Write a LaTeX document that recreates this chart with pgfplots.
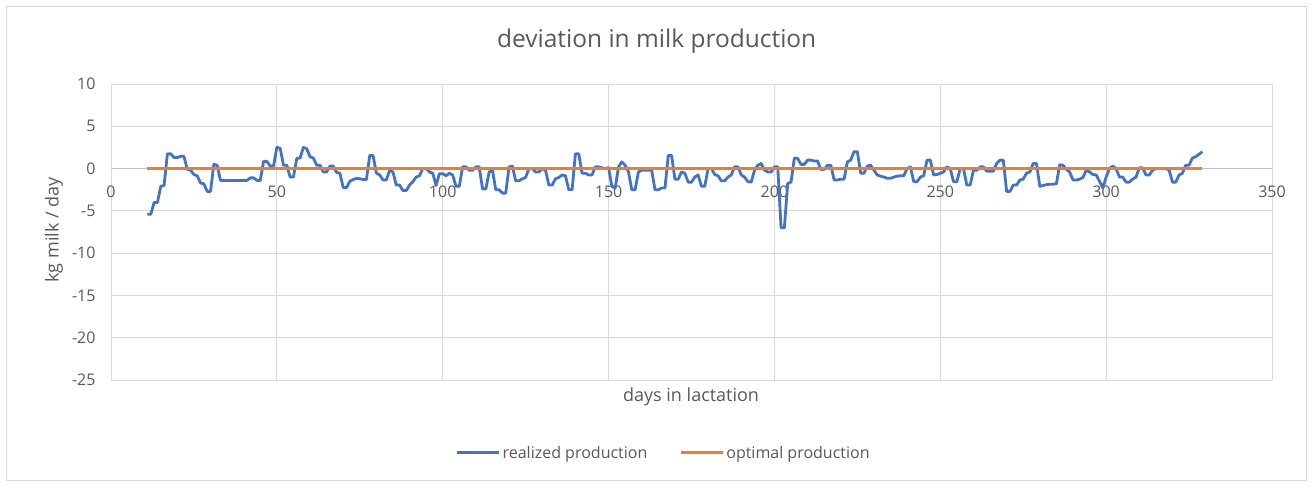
\documentclass[border=0pt]{standalone}
\usepackage{fontspec}
\setmainfont{Open Sans}
\usepackage{pgfplots}
\usepackage{pgfplotstable}
\pgfplotsset{compat=1.18}
\definecolor{cblue}{HTML}{4472C4}
\definecolor{corange}{HTML}{ED7D31}
\definecolor{cgrid}{HTML}{D9D9D9}
\definecolor{ctext}{HTML}{595959}
\definecolor{caxis}{HTML}{BFBFBF}

\pgfplotstableread{
day val
11 -5.4
12 -5.4
13 -4.0
14 -4.0
15 -2.1
16 -2.0
17 1.75
18 1.75
19 1.3
20 1.3
21 1.45
22 1.45
23 -0.1
24 -0.2
25 -0.7
26 -0.85
27 -1.7
28 -1.8
29 -2.7
30 -2.7
31 0.5
32 0.4
33 -1.4
34 -1.4
35 -1.4
36 -1.4
37 -1.4
38 -1.4
39 -1.4
40 -1.4
41 -1.4
42 -1.1
43 -1.1
44 -1.4
45 -1.4
46 0.85
47 0.85
48 0.3
49 0.3
50 2.5
51 2.4
52 0.4
53 0.4
54 -1.0
55 -1.0
56 1.2
57 1.25
58 2.5
59 2.35
60 1.4
61 1.25
62 0.4
63 0.4
64 -0.4
65 -0.4
66 0.3
67 0.3
68 -0.45
69 -0.55
70 -2.25
71 -2.25
72 -1.5
73 -1.3
74 -1.15
75 -1.2
76 -1.3
77 -1.3
78 1.55
79 1.55
80 -0.55
81 -0.75
82 -1.35
83 -1.35
84 -0.2
85 -0.4
86 -1.95
87 -1.95
88 -2.6
89 -2.6
90 -1.95
91 -1.55
92 -1.0
93 -0.85
94 0
95 0
96 -0.4
97 -0.55
98 -2.0
99 -0.6
100 -0.6
101 -0.85
102 -0.55
103 -0.75
104 -2.1
105 -2.1
106 0.2
107 0.2
108 -0.2
109 -0.2
110 0.2
111 0.2
112 -2.4
113 -2.4
114 -0.4
115 -0.2
116 -2.5
117 -2.5
118 -2.9
119 -2.9
120 0.2
121 0.3
122 -1.45
123 -1.45
124 -1.2
125 -1.05
126 0
127 0
128 -0.4
129 -0.4
130 0
131 -0.2
132 -1.95
133 -1.95
134 -1.2
135 -1.05
136 -0.75
137 -0.85
138 -2.5
139 -2.5
140 1.75
141 1.75
142 -0.55
143 -0.55
144 -0.75
145 -0.75
146 0.2
147 0.2
148 0.1
149 0
150 0.1
151 -2.1
152 -2.3
153 0.2
154 0.8
155 0.4
156 -0.4
157 -2.5
158 -2.5
159 -0.4
160 -0.2
161 -0.2
162 -0.2
163 -0.2
164 -2.5
165 -2.5
166 -2.3
167 -2.3
168 1.55
169 1.55
170 -1.25
171 -1.25
172 -0.4
173 -0.55
174 -1.6
175 -1.6
176 -1.0
177 -0.75
178 -2.1
179 -2.1
180 0
181 0
182 -0.7
183 -0.85
184 -1.45
185 -1.45
186 -1.0
187 -0.75
188 0.2
189 0.2
190 -0.75
191 -1.0
192 -1.55
193 -1.6
194 -0.2
195 0.4
196 0.6
197 -0.2
198 -0.4
199 -0.4
200 0.2
201 0.2
202 -7.0
203 -7.0
204 -1.75
205 -1.6
206 1.25
207 1.2
208 0.5
209 0.5
210 1.0
211 1.0
212 0.9
213 0.9
214 -0.1
215 -0.1
216 0.4
217 0.4
218 -1.35
219 -1.35
220 -1.25
221 -1.25
222 0.8
223 1.0
224 2.0
225 2.0
226 -0.55
227 -0.55
228 0.3
229 0.4
230 -0.2
231 -0.75
232 -0.9
233 -1.0
234 -1.15
235 -1.15
236 -1.0
237 -0.9
238 -0.85
239 -0.85
240 0
241 0.2
242 -1.55
243 -1.55
244 -1.0
245 -0.85
246 1.0
247 1.0
248 -0.75
249 -0.7
250 -0.55
251 -0.4
252 0.2
253 0
254 -1.55
255 -1.55
256 0
257 0
258 -1.95
259 -1.95
260 -0.2
261 -0.2
262 0.2
263 0.2
264 -0.3
265 -0.3
266 -0.3
267 0.6
268 1.0
269 1.0
270 -2.7
271 -2.7
272 -1.95
273 -1.95
274 -1.35
275 -1.25
276 -0.55
277 -0.4
278 0.6
279 0.6
280 -2.1
281 -2.0
282 -1.9
283 -1.85
284 -1.85
285 -1.8
286 0.45
287 0.4
288 -0.1
289 -0.4
290 -1.35
291 -1.35
292 -1.25
293 -1.05
294 -0.2
295 -0.4
296 -0.7
297 -0.75
298 -1.5
299 -2.3
300 -1.0
301 0
302 0.3
303 0
304 -1.0
305 -1.0
306 -1.6
307 -1.6
308 -1.25
309 -1.0
310 0.1
311 0.1
312 -0.75
313 -0.75
314 -0.2
315 0
316 0
317 0
318 0
319 -0.2
320 -1.6
321 -1.6
322 -0.75
323 -0.55
324 0.4
325 0.4
326 1.25
327 1.4
328 1.7
329 2.0
}\realized

\pgfplotstableread{
day val
11 0
329 0
}\optimal

\begin{document}
\begin{tikzpicture}
\useasboundingbox (0pt,0pt) rectangle (1312pt,-485pt);
\draw[cgrid, line width=1pt] (6pt,-6pt) rectangle (1306pt,-480pt);
\begin{axis}[
  at={(111pt,-380pt)}, anchor=south west,
  scale only axis, width=1161pt, height=296pt,
  xmin=0, xmax=350, ymin=-25, ymax=10,
  xtick={0,50,...,350}, ytick={-25,-20,...,10},
  grid=major, major grid style={cgrid, line width=1pt},
  axis x line*=middle, axis y line*=left,
  x axis line style={caxis, line width=1.5pt},
  y axis line style={draw=none},
  hide obscured x ticks=false,
  major tick length=0pt,
  ticklabel style={font=\fontsize{16}{19}\selectfont, text=ctext},
  xticklabel style={yshift=-14pt},
  yticklabel style={xshift=-12pt},
  /pgf/number format/assume math mode=true,
  title={deviation in milk production},
  title style={at={(axis description cs:0.47,1.125)}, anchor=center, font=\fontsize{24.5}{29}\selectfont, text=ctext},
  xlabel={days in lactation},
  ylabel={kg milk / day},
  x label style={at={(axis description cs:0.4996,-0.0574)}, anchor=center, font=\fontsize{18}{22}\selectfont, text=ctext},
  y label style={at={(axis description cs:-0.0491,0.507)}, anchor=center, font=\fontsize{18}{22}\selectfont, text=ctext},
  legend columns=2,
  legend style={at={(axis description cs:0.476,-0.2466)}, anchor=center, draw=none, fill=none,
    font=\fontsize{16}{19}\selectfont, text=ctext,
    /tikz/every even column/.append style={column sep=30pt}},
  legend image code/.code={\draw[#1, line width=3pt] (0pt,0pt) -- (42pt,0pt);},
]
\addplot[cblue, line width=2.8pt, line join=round, mark=none] table[x=day, y=val] {\realized};
\addlegendentry{realized production}
\addplot[corange, line width=3.2pt, mark=none] table[x=day, y=val] {\optimal};
\addlegendentry{optimal production}
\end{axis}
\end{tikzpicture}
\end{document}
